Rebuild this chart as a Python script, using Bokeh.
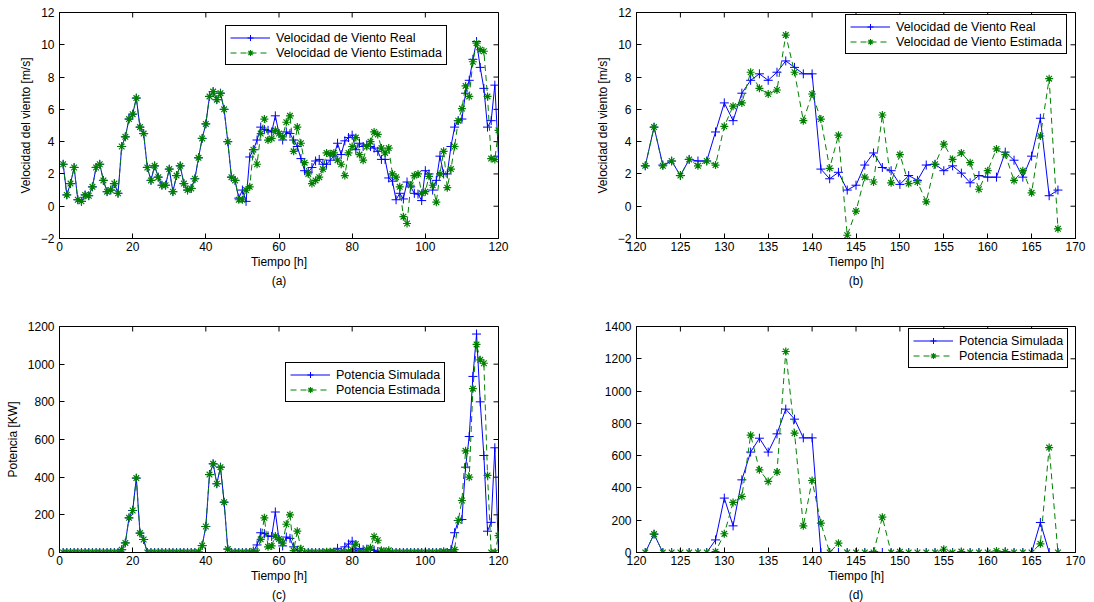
import math

from bokeh.plotting import figure
from bokeh.models import Range1d, FixedTicker, Legend, LegendItem, Title
from bokeh.layouts import column, row
from bokeh.embed import file_html
from bokeh.resources import INLINE

# ---------------------------------------------------------------- data
hours_a = list(range(1, 121))
hours_b = list(range(121, 169))

wind_real_a = [
    2.6, 0.7, 1.4, 2.4, 0.4, 0.3, 0.7, 0.65, 1.2, 2.4,
    2.6, 1.6, 0.9, 1.0, 1.4, 0.8, 3.7, 4.3, 5.4, 5.7,
    6.7, 4.9, 4.5, 2.4, 1.6, 2.5, 1.8, 1.3, 1.3, 2.3,
    0.9, 1.9, 2.5, 1.4, 1.0, 1.1, 1.7, 3.0, 4.2, 5.1,
    6.8, 7.1, 6.6, 7.0, 6.0, 4.0, 1.8, 1.6, 0.5, 1.0,
    0.3, 3.05, 3.5, 4.1, 4.9, 4.75, 4.7, 4.6, 5.6, 4.5,
    4.1, 4.6, 4.5, 4.1, 3.7, 2.95, 2.2, 2.1, 2.4, 2.8,
    2.9, 2.6, 2.6, 2.85, 3.1, 3.9, 3.2, 4.05, 4.25, 4.4,
    3.5, 3.9, 3.7, 3.8, 3.7, 3.6, 3.4, 2.9, 2.9, 1.75,
    1.55, 0.4, 0.8, 0.45, 1.5, 1.2, 0.8, 0.75, 0.35, 2.2,
    2.0, 1.0, 1.6, 3.1, 2.0, 2.0, 3.7, 4.9, 5.3, 5.4,
    7.0, 7.8, 9.1, 10.2, 8.6, 7.3, 4.9, 5.3, 7.5, 3.1,
]
wind_est_a = [
    2.6, 0.7, 1.4, 2.4, 0.4, 0.3, 0.7, 0.65, 1.2, 2.4,
    2.6, 1.6, 0.9, 1.0, 1.4, 0.8, 3.7, 4.3, 5.4, 5.7,
    6.7, 4.9, 4.5, 2.4, 1.6, 2.5, 1.8, 1.3, 1.3, 2.3,
    0.9, 1.9, 2.5, 1.4, 1.0, 1.1, 1.7, 3.0, 4.2, 5.1,
    6.8, 7.1, 6.6, 7.0, 6.0, 4.0, 1.8, 1.6, 0.4, 0.4,
    1.0, 1.2, 3.5, 2.6, 4.5, 5.4, 4.1, 4.2, 4.7, 4.5,
    4.3, 5.2, 5.6, 3.4, 4.9, 3.9, 2.7, 2.0, 1.4, 1.6,
    1.8, 2.3, 3.3, 3.25, 3.3, 2.85, 2.6, 1.9, 3.3, 3.7,
    4.25, 3.2, 2.85, 3.7, 4.0, 4.6, 4.45, 3.6, 3.3, 3.6,
    2.0, 1.8, 1.2, -0.65, -1.07, 1.3, 1.9, 2.0, 0.8, 0.9,
    1.85, 1.3, 0.25, 2.0, 3.4, 1.15, 2.3, 3.7, 5.3, 6.05,
    7.45, 6.8, 8.95, 10.1, 9.7, 9.6, 6.8, 2.95, 2.9, 4.7,
]
power_sim_a = [
    0, 0, 0, 0, 0, 0, 0, 0, 0, 0,
    0, 0, 0, 0, 0, 0, 15, 51, 184, 223,
    395, 103, 69, 0, 0, 0, 0, 0, 0, 0,
    0, 0, 0, 0, 0, 0, 0, 2, 37, 138,
    414, 471, 365, 453, 267, 18, 0, 0, 0, 0,
    0, 0, 8, 40, 105, 100, 88, 85, 215, 68,
    35, 82, 75, 30, 12, 0, 0, 0, 0, 0,
    0, 0, 0, 0, 0, 22, 2, 30, 45, 60,
    8, 22, 15, 18, 15, 12, 5, 0, 0, 0,
    0, 0, 0, 0, 0, 0, 0, 0, 0, 0,
    0, 0, 0, 0, 0, 0, 15, 105, 170, 175,
    453, 616, 935, 1160, 800, 515, 113, 160, 556, 0,
]
power_est_a = [
    0, 0, 0, 0, 0, 0, 0, 0, 0, 0,
    0, 0, 0, 0, 0, 0, 15, 51, 184, 223,
    395, 103, 69, 0, 0, 0, 0, 0, 0, 0,
    0, 0, 0, 0, 0, 0, 0, 2, 37, 138,
    414, 471, 365, 453, 267, 18, 0, 0, 0, 0,
    0, 0, 8, 0, 70, 184, 30, 35, 88, 72,
    50, 150, 200, 10, 113, 20, 0, 0, 0, 0,
    0, 0, 4, 4, 4, 0, 0, 0, 4, 15,
    45, 4, 0, 15, 25, 85, 65, 12, 4, 12,
    0, 0, 0, 0, 0, 0, 0, 0, 0, 0,
    0, 0, 0, 0, 6, 0, 0, 15, 170, 276,
    540, 400, 870, 1105, 1023, 1005, 409, 0, 0, 90,
]

wind_real_b = [
    2.5, 4.9, 2.55, 2.8, 1.9, 2.9, 2.8, 2.8, 4.6, 6.4,
    5.3, 7.0, 7.8, 8.2, 7.8, 8.3, 9.0, 8.6, 8.2, 8.2,
    2.3, 1.7, 2.1, 1.0, 1.3, 2.55, 3.3, 2.4, 2.2, 1.35,
    1.9, 1.6, 2.55, 2.6, 2.2, 2.5, 2.05, 1.45, 1.9, 1.8,
    1.8, 3.35, 2.85, 1.8, 3.1, 5.45, 0.65, 1.0,
]
wind_est_b = [
    2.5, 4.9, 2.5, 2.8, 1.9, 2.9, 2.5, 2.8, 2.55, 4.95,
    6.2, 6.4, 8.3, 7.3, 6.95, 7.2, 10.6, 8.3, 5.3, 6.95,
    5.4, 2.35, 4.4, -1.8, -0.3, 1.8, 1.5, 5.65, 1.45, 3.2,
    1.4, 1.5, 0.27, 2.6, 3.85, 2.9, 3.3, 2.7, 1.05, 2.2,
    3.55, 3.2, 1.6, 2.2, 0.83, 4.35, 7.9, -1.4,
]
power_sim_b = [
    0, 114, 0, 0, 0, 0, 0, 0, 78, 337,
    165, 450, 622, 708, 622, 735, 888, 826, 710, 710,
    0, 0, 0, 0, 0, 0, 4, 0, 0, 0,
    0, 0, 0, 0, 0, 0, 0, 0, 0, 0,
    0, 5, 0, 0, 0, 186, 0, 0,
]
power_est_b = [
    0, 114, 0, 0, 0, 0, 0, 0, 5, 116,
    310, 347, 727, 512, 440, 498, 1245, 739, 165, 446,
    182, 0, 58, 0, 0, 0, 0, 219, 0, 4,
    0, 0, 0, 0, 20, 0, 6, 0, 0, 0,
    10, 4, 0, 0, 0, 54, 650, 0,
]

ticks_a = [0, 20, 40, 60, 80, 100, 120]
ticks_b = [120, 125, 130, 135, 140, 145, 150, 155, 160, 165, 170]
ticks_wind = [-2, 0, 2, 4, 6, 8, 10, 12]
ticks_pow_c = [0, 200, 400, 600, 800, 1000, 1200]
ticks_pow_d = [0, 200, 400, 600, 800, 1000, 1200, 1400]

# ---------------------------------------------------------------- style
FONT = "Liberation Sans"
BLUE = "#0000ff"
GREEN = "#008000"
FS = "12px"


def make_panel(xr, xticks, yr, yticks, ylabel, caption, width, height,
               bl, br, bt, bb):
    p = figure(width=width, height=height,
               x_range=Range1d(*xr), y_range=Range1d(*yr),
               output_backend="svg", toolbar_location=None,
               min_border_left=bl, min_border_right=br,
               min_border_top=bt, min_border_bottom=bb)
    p.grid.visible = False
    p.outline_line_color = "black"
    p.outline_line_width = 1
    p.outline_line_alpha = 1
    p.background_fill_color = "white"
    p.border_fill_color = "white"

    for ax in p.xaxis:
        ax.ticker = FixedTicker(ticks=xticks)
        ax.major_label_standoff = 3
        ax.axis_label = "Tiempo [h]"
        ax.axis_label_standoff = 1
    for ax in p.yaxis:
        ax.ticker = FixedTicker(ticks=yticks)
        ax.major_label_standoff = 5
        ax.axis_label = ylabel
        ax.axis_label_standoff = 5

    for ax in p.axis:
        ax.major_tick_in = 5
        ax.major_tick_out = 0
        ax.minor_tick_in = 0
        ax.minor_tick_out = 0
        ax.axis_line_color = "black"
        ax.major_tick_line_color = "black"
        ax.major_label_text_font = FONT
        ax.major_label_text_font_size = FS
        ax.major_label_text_color = "black"
        ax.axis_label_text_font = FONT
        ax.axis_label_text_font_size = FS
        ax.axis_label_text_font_style = "normal"
        ax.axis_label_text_color = "black"

    # inward tick marks on the top and right edges of the box
    # (dash markers centred on the edge; the outer half is clipped by the frame)
    p.scatter(xticks, [yr[1]] * len(xticks), marker="dash", angle=math.pi / 2,
              size=10, line_color="black", line_width=1)
    p.scatter([xr[1]] * len(yticks), yticks, marker="dash",
              size=10, line_color="black", line_width=1)

    cap = Title(text=caption, align="center", text_font=FONT,
                text_font_size=FS, text_font_style="normal",
                text_color="black", standoff=0)
    p.add_layout(cap, "below")
    return p


def add_series(p, x, y1, y2, label1, label2, loc):
    l1 = p.line(x, y1, line_color=BLUE, line_width=1)
    s1 = p.scatter(x, y1, marker="cross", size=9, line_color=BLUE, line_width=1)
    l2 = p.line(x, y2, line_color=GREEN, line_width=1, line_dash="6 4")
    s2 = p.scatter(x, y2, marker="asterisk", size=8, line_color=GREEN,
                   line_width=1.2)
    leg = Legend(items=[LegendItem(label=label1, renderers=[l1, s1]),
                        LegendItem(label=label2, renderers=[l2, s2])],
                 location=loc)
    leg.label_text_font = FONT
    leg.label_text_font_size = "12.5px"
    leg.label_text_color = "black"
    leg.border_line_color = "black"
    leg.border_line_width = 1
    leg.border_line_alpha = 1
    leg.background_fill_color = "white"
    leg.background_fill_alpha = 1
    leg.glyph_width = 40
    leg.glyph_height = 15
    leg.label_height = 15
    leg.label_standoff = 6
    leg.spacing = 0
    leg.padding = 4
    leg.margin = 0
    p.add_layout(leg)


WIND_LABEL = "Velocidad del viento [m/s]"

pa = make_panel((0, 120), ticks_a, (-2, 12), ticks_wind, WIND_LABEL, "(a)",
                547, 298, 59, 49, 12, 60)
add_series(pa, hours_a, wind_real_a, wind_est_a,
           "Velocidad de Viento Real", "Velocidad de Viento Estimada", (166, 173))

pb = make_panel((120, 170), ticks_b, (-2, 12), ticks_wind, WIND_LABEL, "(b)",
                547, 298, 89, 19, 12, 60)
add_series(pb, hours_b, wind_real_b, wind_est_b,
           "Velocidad de Viento Real", "Velocidad de Viento Estimada", (209, 184))

pc = make_panel((0, 120), ticks_a, (0, 1200), ticks_pow_c, "Potencia [KW]", "(c)",
                547, 304, 59, 49, 28, 50)
add_series(pc, hours_a, power_sim_a, power_est_a,
           "Potencia Simulada", "Potencia Estimada", (226, 150))

pd_ = make_panel((120, 170), ticks_b, (0, 1400), ticks_pow_d, "", "(d)",
                 547, 304, 89, 19, 28, 50)
add_series(pd_, hours_b, power_sim_b, power_est_b,
           "Potencia Simulada", "Potencia Estimada", (272, 184))

layout = column(row(pa, pb), row(pc, pd_))

with open("out.html", "w") as f:
    f.write(file_html(layout, INLINE))
